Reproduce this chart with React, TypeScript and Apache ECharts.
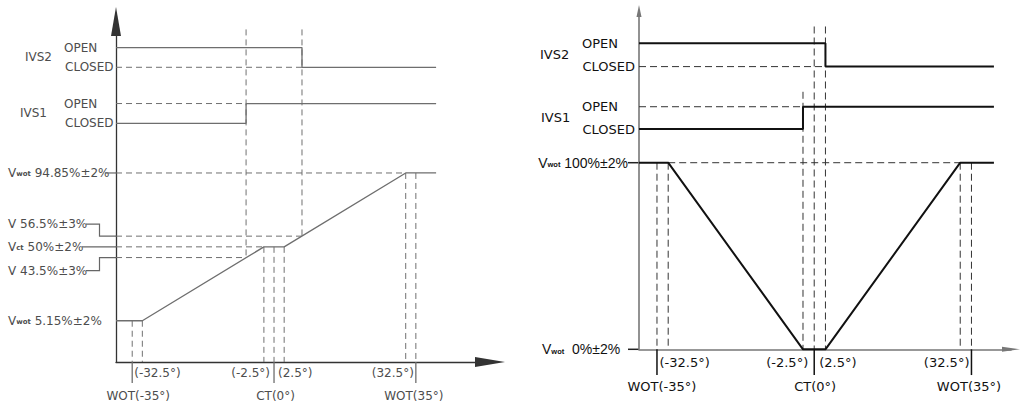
import React, { useEffect, useRef } from "react";
import * as echarts from "echarts";

// ---------- data (angles in degrees, outputs in %) ----------
const angleTicks = [-35, -32.5, -2.5, 0, 2.5, 32.5, 35];
const solidTickAngles = [-35, 0, 35];
const traceEnd = 40;

// left diagram
const leftCurveAngles = [-39, -32.5, -2.5, 2.5, 32.5, 40];
const leftCurveValues = [5.15, 5.15, 50, 50, 94.85, 94.85];
const leftBandValues = [43.5, 50, 56.5];
const leftSwitchAngles = [-6.9, 6.9]; // IVS1, IVS2
const leftIvs2Levels = [171, 159]; // OPEN, CLOSED
const leftIvs1Levels = [137, 125]; // OPEN, CLOSED
const leftGuideTop = 182;

// right diagram
const rightCurveAngles = [-39, -32.5, -2.5, 2.5, 32.5, 40];
const rightCurveValues = [100, 100, 0, 0, 100, 100];
const rightSwitchAngles = [-2.5, 2.5]; // IVS1, IVS2
const rightIvs2Levels = [164, 151.5];
const rightIvs1Levels = [130, 118];
const rightGuideTops = [138, 173, 173]; // for -2.5, 0, 2.5

// labels
const leftValueLabels = ["94.85%±2%", "56.5%±3%", "50%±2%", "43.5%±3%", "5.15%±2%"];
const rightValueLabels = ["100%±2%", "0%±2%"];
const angleLabels = ["(-32.5°)", "WOT(-35°)", "(-2.5°)", "(2.5°)", "CT(0°)", "(32.5°)", "WOT(35°)"];

// axis bounds
const X_MIN = -39;
const L_X_MAX = 53.3;
const L_Y_MIN = -19.9;
const L_Y_MAX = 186.8;
const R_X_MAX = 43.8;
const R_Y_MIN = 0;
const R_Y_MAX = 181.3;

const FONT = "DejaVu Sans";
const FONT2 = "Liberation Sans";

const L_SOLID = { color: "#6e6e6e", width: 1.3 };
const L_DASH = { color: "#707070", width: 1, type: [6, 4] as any };
const R_SOLID = { color: "#111", width: 2 };
const R_DASH = { color: "#333", width: 1, type: [7, 4] as any };

function seg(g: number, data: number[][], lineStyle: any) {
  return {
    type: "line",
    xAxisIndex: g,
    yAxisIndex: g,
    data,
    symbol: "none",
    showSymbol: false,
    silent: true,
    clip: false,
    lineStyle,
  };
}

function buildSeries() {
  const s: any[] = [];
  // ---- left ----
  s.push(seg(0, leftCurveAngles.map((a, i) => [a, leftCurveValues[i]]), L_SOLID));
  s.push(seg(0, [[X_MIN, leftCurveValues[4]], [angleTicks[5], leftCurveValues[4]]], L_DASH));
  s.push(seg(0, [[X_MIN, leftBandValues[2]], [leftSwitchAngles[1], leftBandValues[2]]], L_DASH));
  s.push(seg(0, [[X_MIN, leftBandValues[1]], [angleTicks[2], leftBandValues[1]]], L_DASH));
  s.push(seg(0, [[X_MIN, leftBandValues[0]], [leftSwitchAngles[0], leftBandValues[0]]], L_DASH));
  // verticals
  [angleTicks[0], angleTicks[1]].forEach((a) => s.push(seg(0, [[a, leftCurveValues[0]], [a, L_Y_MIN]], L_DASH)));
  [angleTicks[2], angleTicks[3], angleTicks[4]].forEach((a) => s.push(seg(0, [[a, leftBandValues[1]], [a, L_Y_MIN]], L_DASH)));
  [angleTicks[5], angleTicks[6]].forEach((a) => s.push(seg(0, [[a, leftCurveValues[4]], [a, L_Y_MIN]], L_DASH)));
  s.push(seg(0, [[leftSwitchAngles[0], leftGuideTop], [leftSwitchAngles[0], leftBandValues[0]]], L_DASH));
  s.push(seg(0, [[leftSwitchAngles[1], leftGuideTop], [leftSwitchAngles[1], leftBandValues[2]]], L_DASH));
  solidTickAngles.forEach((a) => s.push(seg(0, [[a, L_Y_MIN], [a, L_Y_MIN - 12.8]], L_SOLID)));
  // IVS2
  s.push(seg(0, [[X_MIN, leftIvs2Levels[0]], [leftSwitchAngles[1], leftIvs2Levels[0]], [leftSwitchAngles[1], leftIvs2Levels[1]], [traceEnd, leftIvs2Levels[1]]], L_SOLID));
  s.push(seg(0, [[X_MIN, leftIvs2Levels[1]], [leftSwitchAngles[1], leftIvs2Levels[1]]], L_DASH));
  // IVS1
  s.push(seg(0, [[X_MIN, leftIvs1Levels[1]], [leftSwitchAngles[0], leftIvs1Levels[1]], [leftSwitchAngles[0], leftIvs1Levels[0]], [traceEnd, leftIvs1Levels[0]]], L_SOLID));
  s.push(seg(0, [[X_MIN, leftIvs1Levels[0]], [leftSwitchAngles[0], leftIvs1Levels[0]]], L_DASH));

  // ---- right ----
  s.push(seg(1, [[angleTicks[1], rightCurveValues[0]], [angleTicks[5], rightCurveValues[0]]], R_DASH));
  [angleTicks[0], angleTicks[1], angleTicks[5], angleTicks[6]].forEach((a) => s.push(seg(1, [[a, rightCurveValues[0]], [a, R_Y_MIN]], R_DASH)));
  [angleTicks[2], angleTicks[3], angleTicks[4]].forEach((a, i) => s.push(seg(1, [[a, rightGuideTops[i]], [a, R_Y_MIN]], R_DASH)));
  solidTickAngles.forEach((a) => s.push(seg(1, [[a, R_Y_MIN], [a, R_Y_MIN - 13.8]], { color: "#111", width: 1.5 })));
  s.push(seg(1, [[X_MIN, rightIvs2Levels[1]], [rightSwitchAngles[1], rightIvs2Levels[1]]], R_DASH));
  s.push(seg(1, [[X_MIN, rightIvs1Levels[0]], [rightSwitchAngles[0], rightIvs1Levels[0]]], R_DASH));
  s.push(seg(1, [[X_MIN, rightIvs2Levels[0]], [rightSwitchAngles[1], rightIvs2Levels[0]], [rightSwitchAngles[1], rightIvs2Levels[1]], [traceEnd, rightIvs2Levels[1]]], R_SOLID));
  s.push(seg(1, [[X_MIN, rightIvs1Levels[1]], [rightSwitchAngles[0], rightIvs1Levels[1]], [rightSwitchAngles[0], rightIvs1Levels[0]], [traceEnd, rightIvs1Levels[0]]], R_SOLID));
  s.push(seg(1, rightCurveAngles.map((a, i) => [a, rightCurveValues[i]]), R_SOLID));
  return s;
}

function axisLine(color: string, width: number, size: number[]) {
  return {
    show: true,
    onZero: false,
    symbol: ["none", "triangle"],
    symbolSize: size,
    lineStyle: { color, width },
  };
}

const hidden = {
  axisTick: { show: false },
  axisLabel: { show: false },
  splitLine: { show: false },
};

function txt(x: number, y: number, text: string, size: number, fill: string, align = "left", subSize = 7, family = FONT) {
  return {
    type: "text",
    x,
    y,
    silent: true,
    style: {
      text,
      fontFamily: family,
      fontSize: size,
      fill,
      align,
      verticalAlign: "middle",
      rich: {
        v: { fontFamily: family, fontSize: size, fill },
        s: { fontFamily: family, fontSize: subSize, fill, fontWeight: "bold", verticalAlign: "bottom", padding: [0, 0, 1, 0] },
      },
    },
  };
}

function ln(points: number[][], color: string, width: number) {
  return {
    type: "polyline",
    silent: true,
    shape: { points },
    style: { stroke: color, lineWidth: width, fill: null },
  };
}

export default function App() {
  const ref = useRef<HTMLDivElement>(null);
  useEffect(() => {
    if (!ref.current) return;
    const chart = echarts.init(ref.current, null, { renderer: "svg" });
    chart.setOption({
      animation: false,
      grid: [
        { left: 116, top: 21.5, width: 374, height: 340.5 },
        { left: 639, top: 11, width: 372, height: 338.3 },
      ],
      xAxis: [
        { gridIndex: 0, type: "value", min: X_MIN, max: L_X_MAX, axisLine: axisLine("#333", 1.3, [10, 30]), ...hidden },
        { gridIndex: 1, type: "value", min: X_MIN, max: R_X_MAX, axisLine: axisLine("#777", 1.6, [5, 18]), ...hidden },
      ],
      yAxis: [
        { gridIndex: 0, type: "value", min: L_Y_MIN, max: L_Y_MAX, axisLine: axisLine("#333", 1.3, [10, 29]), ...hidden },
        { gridIndex: 1, type: "value", min: R_Y_MIN, max: R_Y_MAX, axisLine: axisLine("#777", 1.6, [5, 12]), ...hidden },
      ],
      series: buildSeries(),
    });

    const P = (g: number, x: number, y: number) => chart.convertToPixel({ gridIndex: g } as any, [x, y]) as number[];
    const g: any[] = [];

    // ---- left labels ----
    {
      const LC = "#4d4d4d";
      const ax = P(0, X_MIN, 0)[0];
      const yv = (v: number) => P(0, X_MIN, v)[1];
      const xa = (a: number) => P(0, a, 0)[0];
      const axisY = yv(L_Y_MIN);
      const fs = 12;
      g.push(txt(ax - 91, (yv(leftIvs2Levels[0]) + yv(leftIvs2Levels[1])) / 2, "IVS2", fs, LC));
      g.push(txt(ax - 52, yv(leftIvs2Levels[0]), "OPEN", fs, LC));
      g.push(txt(ax - 51, yv(leftIvs2Levels[1]), "CLOSED", fs, LC));
      g.push(txt(ax - 96, (yv(leftIvs1Levels[0]) + yv(leftIvs1Levels[1])) / 2, "IVS1", fs, LC));
      g.push(txt(ax - 52, yv(leftIvs1Levels[0]), "OPEN", fs, LC));
      g.push(txt(ax - 51, yv(leftIvs1Levels[1]), "CLOSED", fs, LC));
      const lx = ax - 108;
      const y95 = yv(leftCurveValues[4]);
      const y565 = yv(leftBandValues[2]);
      const y50 = yv(leftBandValues[1]);
      const y435 = yv(leftBandValues[0]);
      const y5 = yv(leftCurveValues[0]);
      g.push(txt(lx, y95, "{v|V}{s|wot} " + leftValueLabels[0], fs, LC));
      g.push(txt(lx, y565 - 12, "V " + leftValueLabels[1], fs, LC));
      g.push(txt(lx, y50, "{v|V}{s|ct} " + leftValueLabels[2], fs, LC));
      g.push(txt(lx, y435 + 13, "V " + leftValueLabels[3], fs, LC));
      g.push(txt(lx, y5, "{v|V}{s|wot} " + leftValueLabels[4], fs, LC));
      g.push(ln([[ax - 11, y95], [ax, y95]], "#666", 1.2));
      g.push(ln([[ax - 30, y565 - 12], [ax - 16.5, y565 - 12], [ax - 16.5, y565], [ax, y565]], "#666", 1.2));
      g.push(ln([[ax - 34, y50], [ax, y50]], "#666", 1.2));
      g.push(ln([[ax - 30, y435 + 13], [ax - 16.5, y435 + 13], [ax - 16.5, y435], [ax, y435]], "#666", 1.2));
      const r1 = axisY + 11;
      const r2 = axisY + 34;
      g.push(txt(xa(-35) + 2, r1, angleLabels[0], fs, LC, "left"));
      g.push(txt(xa(-35) + 6, r2, angleLabels[1], fs, LC, "center"));
      g.push(txt(xa(0) - 4, r1, angleLabels[2], fs, LC, "right"));
      g.push(txt(xa(0) + 4, r1, angleLabels[3], fs, LC, "left"));
      g.push(txt(xa(0) + 1.5, r2, angleLabels[4], fs, LC, "center"));
      g.push(txt(xa(35) - 2, r1, angleLabels[5], fs, LC, "right"));
      g.push(txt(xa(35) - 2, r2, angleLabels[6], fs, LC, "center"));
    }

    // ---- right labels ----
    {
      const RC = "#111";
      const ax = P(1, X_MIN, 0)[0];
      const yv = (v: number) => P(1, X_MIN, v)[1];
      const xa = (a: number) => P(1, a, 0)[0];
      const axisY = yv(R_Y_MIN);
      const fs = 13;
      g.push(txt(ax - 99, (yv(rightIvs2Levels[0]) + yv(rightIvs2Levels[1])) / 2, "IVS2", fs, RC));
      g.push(txt(ax - 57, yv(rightIvs2Levels[0]), "OPEN", fs, RC));
      g.push(txt(ax - 4, yv(rightIvs2Levels[1]), "CLOSED", fs, RC, "right"));
      g.push(txt(ax - 98, (yv(rightIvs1Levels[0]) + yv(rightIvs1Levels[1])) / 2, "IVS1", fs, RC));
      g.push(txt(ax - 57, yv(rightIvs1Levels[0]), "OPEN", fs, RC));
      g.push(txt(ax - 4, yv(rightIvs1Levels[1]), "CLOSED", fs, RC, "right"));
      const y100 = yv(rightCurveValues[0]);
      const y0 = yv(R_Y_MIN);
      g.push(txt(ax - 11, y100, "{v|V}{s|wot} " + rightValueLabels[0], 14, RC, "right", 7.5, FONT2));
      g.push(txt(ax - 97, y0, "{v|V}{s|wot}  " + rightValueLabels[1], 14, RC, "left", 7.5, FONT2));
      g.push(ln([[ax - 11, y100], [ax, y100]], "#222", 1.5));
      g.push(ln([[ax - 11, y0], [ax, y0]], "#222", 1.5));
      const r1 = axisY + 13.5;
      const r2 = axisY + 37.5;
      g.push(txt(xa(-35) + 2.5, r1, angleLabels[0], fs, RC, "left"));
      g.push(txt(xa(-35) + 5, r2, angleLabels[1], fs, RC, "center"));
      g.push(txt(xa(0) - 6, r1, angleLabels[2], fs, RC, "right"));
      g.push(txt(xa(0) + 5, r1, angleLabels[3], fs, RC, "left"));
      g.push(txt(xa(0) + 1, r2, angleLabels[4], fs, RC, "center"));
      g.push(txt(xa(35) - 2, r1, angleLabels[5], fs, RC, "right"));
      g.push(txt(xa(35) - 2.5, r2, angleLabels[6], fs, RC, "center"));
    }

    chart.setOption({ graphic: g });
    return () => chart.dispose();
  }, []);
  return <div ref={ref} style={{ position: "absolute", left: 0, top: 0, width: 1021, height: 406, background: "#fff" }} />;
}
